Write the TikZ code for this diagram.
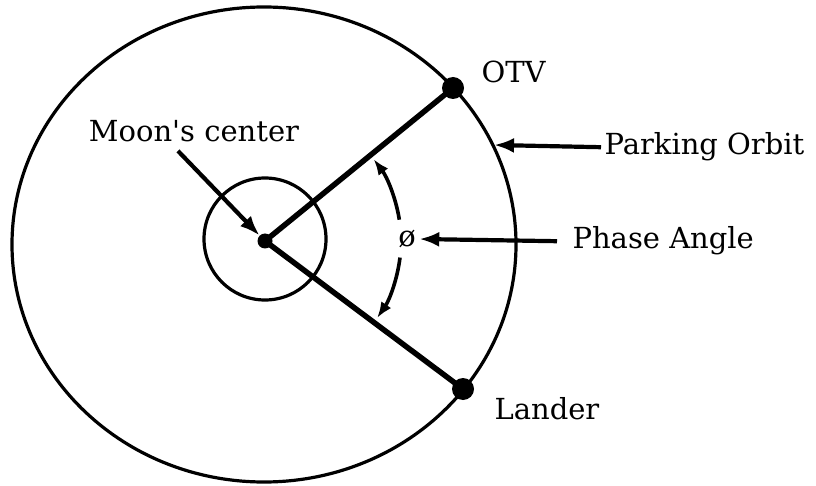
\documentclass[tikz,border=0pt]{standalone}
\usepackage{fontspec}
\setmainfont{DejaVu Serif}
\usetikzlibrary{positioning, arrows.meta}

\begin{document}
\begin{tikzpicture}[x=1pt, y=1pt,
    every node/.style={font=\fontsize{29}{34}\selectfont},
    orbit/.style={line width=3.2pt},
    spoke/.style={line width=5.5pt},
    craft/.style={circle, fill=black, inner sep=0pt, minimum size=22pt},
    arr/.style={line width=4.2pt, -{Latex[length=20pt, width=15pt]}},
    angarr/.style={line width=3.6pt, -{Latex[length=16pt, width=12pt]}}]
      \useasboundingbox (0,0) rectangle (816,485);
      % orbits
      \draw[orbit] (264,240.5) ellipse [x radius=252, y radius=237.5];
      \draw[orbit] (265,246) circle [radius=61];
      % moon and spacecraft
      \node[craft, minimum size=15pt] (moon) at (265,244) {};
      \node[craft] (otv) at (453,397) {};
      \node[craft] (lander) at (463,96) {};
      \draw[spoke] (moon.center) -- (otv.center);
      \draw[spoke] (moon.center) -- (lander.center);
      % labels
      \node[anchor=base west] (otvlbl) at (478,402) {OTV};
      \node[anchor=base west] (landerlbl) at (491,66) {Lander};
      \node[anchor=base] (moonlbl) at (194,343) {Moon\textquotesingle s center};
      \node[anchor=base west] (parking) at (601,330) {Parking Orbit};
      \node[anchor=base west] (phase) at (569,236) {Phase Angle};
      \node (phi) at (407,246) {ø};
      \coordinate (orbitpt) at (494,340);
      % arrows
      \draw[arr] ([xshift=-16pt, yshift=-5pt]moonlbl.south) -- (moon.north west);
      \draw[arr] (parking.west) -- (orbitpt);
      \draw[arr] ([xshift=-12pt]phase.west) -- (phi.east);
      % phase angle arcs
      \draw[angarr] ([shift={(9:136)}]moon.center) arc (9:37:136);
      \draw[angarr] ([shift={(-7:136)}]moon.center) arc (-7:-34.5:136);
    \end{tikzpicture}
\end{document}
